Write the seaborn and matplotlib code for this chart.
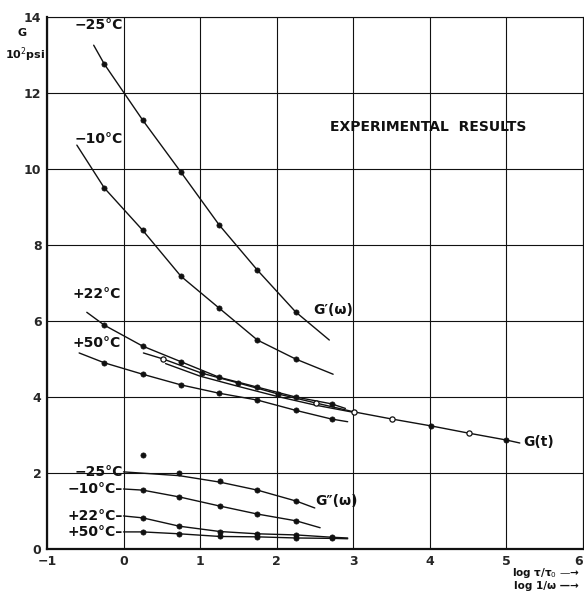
import matplotlib
matplotlib.use("Agg")
import matplotlib.pyplot as plt
import seaborn as sns
import pandas as pd

sns.set_theme(style="white")
plt.rcParams['font.family'] = ['DejaVu Sans']

# ---- data (log time / log 1/omega, G in 10^2 psi) ----
# G'(omega) storage modulus curves
gp_m25_x = [-0.39, -0.25, 0.25, 0.75, 1.25, 1.75, 2.25, 2.69]
gp_m25_y = [13.26, 12.76, 11.29, 9.92, 8.53, 7.34, 6.24, 5.50]
gp_m10_x = [-0.61, -0.25, 0.25, 0.75, 1.25, 1.75, 2.25, 2.74]
gp_m10_y = [10.63, 9.50, 8.39, 7.18, 6.34, 5.50, 5.00, 4.60]
gp_p22_x = [-0.48, -0.25, 0.25, 0.75, 1.25, 1.75, 2.25, 2.72, 2.90]
gp_p22_y = [6.23, 5.89, 5.34, 4.93, 4.52, 4.26, 4.00, 3.82, 3.70]
gp_p50_x = [-0.58, -0.25, 0.25, 0.75, 1.25, 1.75, 2.25, 2.72, 2.93]
gp_p50_y = [5.16, 4.90, 4.60, 4.32, 4.10, 3.92, 3.65, 3.42, 3.35]
# G(t) relaxation modulus
gt_x = [0.26, 0.52, 1.02, 1.50, 2.02, 2.52, 3.01, 3.51, 4.02, 4.51, 5.00, 5.18]
gt_y = [5.16, 5.00, 4.63, 4.37, 4.08, 3.84, 3.61, 3.42, 3.24, 3.05, 2.87, 2.79]
gt_open = [False, True, False, False, False, True, True, True, False, True, False, False]
# second (lower) G(t) trace forming the narrow band
gt2_x = [0.55, 1.00, 1.50, 2.00, 2.50, 3.00]
gt2_y = [4.88, 4.55, 4.28, 4.02, 3.79, 3.60]
# G''(omega) loss modulus curves
gpp_m25_x = [0.00, 0.73, 1.26, 1.75, 2.26, 2.50]
gpp_m25_y = [2.03, 1.93, 1.76, 1.55, 1.26, 1.08]
gpp_m25_px = [0.25, 0.73, 1.26, 1.75, 2.26]
gpp_m25_py = [2.47, 2.00, 1.79, 1.55, 1.26]
gpp_m10_x = [0.00, 0.25, 0.73, 1.26, 1.75, 2.26, 2.57]
gpp_m10_y = [1.58, 1.55, 1.37, 1.13, 0.92, 0.74, 0.56]
gpp_p22_x = [0.00, 0.25, 0.73, 1.26, 1.75, 2.26, 2.72, 2.93]
gpp_p22_y = [0.87, 0.82, 0.60, 0.46, 0.40, 0.37, 0.31, 0.29]
gpp_p50_x = [0.00, 0.25, 0.73, 1.26, 1.75, 2.26, 2.72, 2.93]
gpp_p50_y = [0.45, 0.45, 0.40, 0.33, 0.32, 0.29, 0.28, 0.27]

x_ticks = [-1, 0, 1, 2, 3, 4, 5, 6]
x_tick_labels = ["\u22121", "0", "1", "2", "3", "4", "5", "6"]
y_ticks = [0, 2, 4, 6, 8, 10, 12, 14]

fig = plt.figure(figsize=(5.84, 5.95), dpi=100)
ax = fig.add_axes([0.0805, 0.0773, 0.917, 0.894])

ink = "#111111"

def curve(xs, ys, mark_slice=slice(None), mx=None, my=None, open_flags=None, marks=True):
    sns.lineplot(x=xs, y=ys, ax=ax, color=ink, lw=1.0, sort=False, estimator=None)
    if not marks:
        return
    if mx is None:
        mx = xs[mark_slice]
        my = ys[mark_slice]
    df = pd.DataFrame({"x": mx, "y": my})
    if open_flags is None:
        sns.scatterplot(data=df, x="x", y="y", ax=ax, color=ink, s=14, edgecolor=ink, linewidth=0.5, zorder=5)
    else:
        of = pd.Series(open_flags)
        sns.scatterplot(data=df[~of.values], x="x", y="y", ax=ax, color=ink, s=14,
                        edgecolor=ink, linewidth=0.5, zorder=5)
        sns.scatterplot(data=df[of.values], x="x", y="y", ax=ax, color="white", s=14,
                        edgecolor=ink, linewidth=0.9, zorder=5)

curve(gp_m25_x, gp_m25_y, slice(1, -1))
curve(gp_m10_x, gp_m10_y, slice(1, -1))
curve(gp_p22_x, gp_p22_y, slice(1, -1))
curve(gp_p50_x, gp_p50_y, slice(1, -1))
curve(gt_x, gt_y, mx=gt_x[1:-1], my=gt_y[1:-1], open_flags=gt_open[1:-1])
curve(gt2_x, gt2_y, marks=False)
curve(gpp_m25_x, gpp_m25_y, mx=gpp_m25_px, my=gpp_m25_py)
curve(gpp_m10_x, gpp_m10_y, slice(1, -1))
curve(gpp_p22_x, gpp_p22_y, slice(1, -1))
curve(gpp_p50_x, gpp_p50_y, slice(1, -1))

ax.set_xlim(-1, 6)
ax.set_ylim(0, 14)
ax.set_xticks(x_ticks)
ax.set_yticks(y_ticks)
ax.set_xticklabels(x_tick_labels, fontsize=9, fontweight="bold")
ax.set_yticklabels([str(v) for v in y_ticks], fontsize=9, fontweight="bold")
ax.get_xticklabels()[-1].set_horizontalalignment("right")
ax.tick_params(axis="x", length=0, pad=4)
ax.tick_params(axis="y", length=0, pad=4)
ax.set_xlabel("")
ax.set_ylabel("")
ax.grid(True, color=ink, lw=0.8)
for s in ["top", "right"]:
    ax.spines[s].set_color(ink)
    ax.spines[s].set_linewidth(0.8)
for s in ["left", "bottom"]:
    ax.spines[s].set_color(ink)
    ax.spines[s].set_linewidth(1.6)

fs = 10
txt = dict(fontsize=fs, color=ink, fontweight="bold")
ax.text(-0.33, 13.8, "\u221225\u00b0C", ha="center", va="center", **txt)
ax.text(-0.33, 10.8, "\u221210\u00b0C", ha="center", va="center", **txt)
ax.text(-0.35, 6.7, "+22\u00b0C", ha="center", va="center", **txt)
ax.text(-0.35, 5.42, "+50\u00b0C", ha="center", va="center", **txt)
ax.text(-0.01, 2.03, "\u221225\u00b0C", ha="right", va="center", **txt)
ax.text(-0.01, 1.58, "\u221210\u00b0C\u2013", ha="right", va="center", **txt)
ax.text(-0.01, 0.87, "+22\u00b0C\u2013", ha="right", va="center", **txt)
ax.text(-0.01, 0.45, "+50\u00b0C\u2013", ha="right", va="center", **txt)
ax.text(2.48, 6.3, "G\u2032(\u03c9)", ha="left", va="center", **txt)
ax.text(2.5, 1.27, "G\u2033(\u03c9)", ha="left", va="center", **txt)
ax.text(5.22, 2.82, "G(t)", ha="left", va="center", **txt)
ax.text(3.98, 11.1, "EXPERIMENTAL  RESULTS", ha="center", va="center", **txt)

fig.text(0.038, 0.945, "G", ha="center", va="center", fontsize=8, fontweight="bold", color=ink)
fig.text(0.043, 0.908, "10$^{2}$psi", ha="center", va="center", fontsize=8, fontweight="bold", color=ink)
fig.text(0.935, 0.037, "log \u03c4/\u03c4$_{0}$ \u2014\u2192", ha="center", va="center", fontsize=7.5, fontweight="bold", color=ink)
fig.text(0.935, 0.015, "log 1/\u03c9 \u2014\u2192", ha="center", va="center", fontsize=7.5, fontweight="bold", color=ink)

fig.savefig("out.png", dpi=100)
